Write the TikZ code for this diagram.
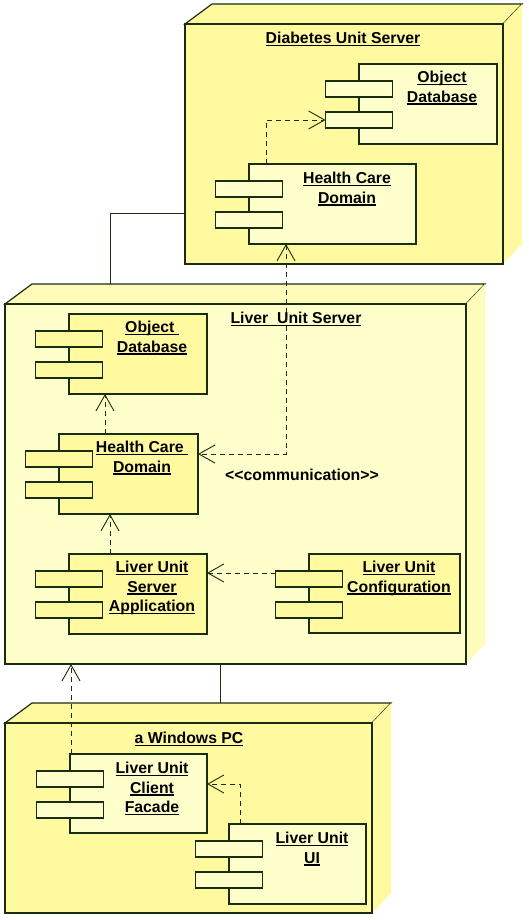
\documentclass[tikz,border=0pt]{standalone}
\usepackage{fontspec}
\setmainfont{Liberation Sans}
\usetikzlibrary{arrows.meta,backgrounds}

\definecolor{nodeyellow}{RGB}{255,250,160}
\definecolor{paleyellow}{RGB}{255,255,204}
\definecolor{sidepale}{RGB}{255,252,186}
\definecolor{edge}{RGB}{25,45,15}

\newcommand{\ultext}[1]{\setbox0\hbox{#1}\rlap{\rule[-2.4pt]{\wd0}{1.1pt}}\box0}

\tikzset{
  devface/.style={draw=edge, line width=1.2pt, inner sep=0pt, outer sep=0pt, anchor=north west},
  comp/.style={draw=edge, line width=1.1pt, inner sep=0pt, outer sep=0pt, anchor=north west},
  port/.style={draw=edge, line width=1.1pt, inner sep=0pt, outer sep=0pt, minimum width=67pt, minimum height=16pt},
  txt/.style={inner sep=0pt, align=center, text=black, font=\fontsize{15.8}{19.5}\selectfont\bfseries},
  link/.style={draw=edge, line width=1pt},
  dep/.style={draw=edge, line width=0.9pt, dash pattern=on 5pt off 4pt, -{Straight Barb[length=16pt,width=18pt]}},
  comm/.style={dep, {Straight Barb[length=16pt,width=18pt]}-{Straight Barb[length=16pt,width=18pt]}}
}

\begin{document}
\begin{tikzpicture}[x=1pt, y=-1pt]
    \useasboundingbox (0,0) rectangle (528,920);

    % devices
    \node[devface, fill=nodeyellow, minimum width=318pt, minimum height=240pt] (dbs) at (185,24) {};
    \node[devface, fill=paleyellow, minimum width=461pt, minimum height=360pt] (lus) at (5,304) {};
    \node[devface, fill=nodeyellow, minimum width=367pt, minimum height=190pt] (wpc) at (5,723) {};

    \begin{scope}[on background layer]
        \foreach \d/\s in {dbs/nodeyellow, lus/sidepale, wpc/nodeyellow} {
            \filldraw[fill=\s, draw=edge, line width=1.2pt] (\d.north west) -- ++(27,-20)
                -- ([xshift=19pt,yshift=20pt]\d.north east) -- (\d.north east) -- cycle;
            \fill[\s] (\d.north east) -- ++(19,-20)
                -- ([xshift=19pt,yshift=20pt]\d.south east) -- (\d.south east) -- cycle;
        }
    \end{scope}

    \node[txt, anchor=north] (dbst) at (343,32) {\ultext{Diabetes Unit Server}};
    \node[txt, anchor=north] (lust) at (296,312) {\ultext{Liver\ \ Unit Server}};
    \node[txt, anchor=north] (wpct) at (189,732) {\ultext{a Windows PC}};

    % components
    \node[comp, fill=paleyellow, minimum width=138pt, minimum height=80pt] (dodb) at (359,64) {};
    \node[comp, fill=paleyellow, minimum width=167pt, minimum height=80pt] (dhcd) at (249,164) {};
    \node[comp, fill=nodeyellow, minimum width=138pt, minimum height=80pt] (lodb) at (69,314) {};
    \node[comp, fill=nodeyellow, minimum width=139pt, minimum height=80pt] (lhcd) at (59,434) {};
    \node[comp, fill=nodeyellow, minimum width=138pt, minimum height=80pt] (lapp) at (69,554) {};
    \node[comp, fill=nodeyellow, minimum width=151pt, minimum height=79pt] (lcfg) at (309,554) {};
    \node[comp, fill=paleyellow, minimum width=137pt, minimum height=79pt] (lfac) at (70,754) {};
    \node[comp, fill=paleyellow, minimum width=137pt, minimum height=80pt] (lui) at (229,824) {};

    \foreach \c/\f in {dodb/paleyellow, dhcd/paleyellow, lodb/nodeyellow, lhcd/nodeyellow,
                       lapp/nodeyellow, lcfg/nodeyellow, lfac/paleyellow, lui/paleyellow} {
        \node[port, fill=\f] (\c-p1) at ([yshift=-25pt]\c.north west) {};
        \node[port, fill=\f] (\c-p2) at ([yshift=-56pt]\c.north west) {};
    }

    \node[txt, anchor=north] (dodbt) at (442,71) {\ultext{Object}\\\ultext{Database}};
    \node[txt, anchor=north] (dhcdt) at (347,172) {\ultext{Health Care}\\\ultext{Domain}};
    \node[txt, anchor=north] (lodbt) at (152,321) {\ultext{Object\ }\\\ultext{Database}};
    \node[txt, anchor=north] (lhcdt) at (142,441) {\ultext{Health Care\ }\\\ultext{Domain}};
    \node[txt, anchor=north] (lappt) at (152,561) {\ultext{Liver Unit}\\\ultext{Server}\\\ultext{Application}};
    \node[txt, anchor=north] (lcfgt) at (399,561) {\ultext{Liver Unit}\\\ultext{Configuration}};
    \node[txt, anchor=north] (lfact) at (152,762) {\ultext{Liver Unit}\\\ultext{Client}\\\ultext{Facade}};
    \node[txt, anchor=north] (luit) at (312,832) {\ultext{Liver Unit}\\\ultext{UI}};

    \node[txt, anchor=base] (commt) at (302,480) {<\kern0pt<communication>\kern0pt>};

    % connections
    \draw[link] ([yshift=51pt]dbs.south west) -| ([xshift=105pt,yshift=20pt]lus.north west);
    \draw[link] ([xshift=215pt]lus.south west) -- ([xshift=215pt,yshift=20pt]wpc.north west);

    \draw[dep] ([xshift=17pt]dhcd.north west) |- (dodb-p2.west);
    \draw[comm] ([xshift=37pt]dhcd.south west) |- ([yshift=-20pt]lhcd.north east);
    \draw[dep] ([xshift=46pt]lhcd.north west) -- ([xshift=46pt]lhcd.north west |- lodb.south);
    \draw[dep] ([xshift=41pt]lapp.north west) -- ([xshift=41pt]lapp.north west |- lhcd.south);
    \draw[dep] ([yshift=6pt]lcfg-p1.west) -- ([yshift=-19pt]lapp.north east);
    \draw[dep] ([xshift=1pt]lfac.north west) -- ([xshift=1pt]lfac.north west |- lus.south);
    \draw[dep] ([xshift=11pt]lui.north west) |- ([yshift=-30pt]lfac.north east);
\end{tikzpicture}
\end{document}
